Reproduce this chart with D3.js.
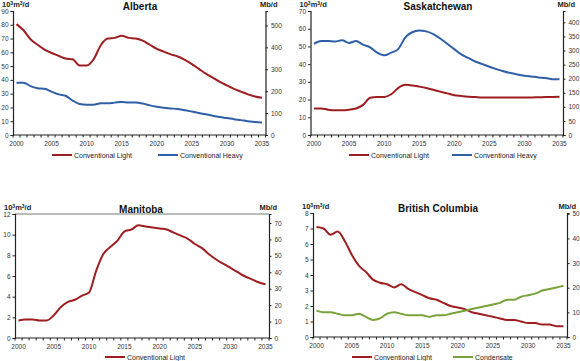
<!DOCTYPE html>
<html><head><meta charset="utf-8">
<script src="https://cdn.jsdelivr.net/npm/d3@7"></script>
<style>body{margin:0;background:#fff}svg{display:block;font-family:"Liberation Sans",Arial,sans-serif}</style>
</head><body><svg id="c" width="580" height="361"></svg>
<script>
const years = d3.range(2000, 2036);
const xTickLabels = [2000,2005,2010,2015,2020,2025,2030,2035];
const M3_TO_BBL = 6.2898;

const albertaLight = [80.5,76,69.5,65.5,62,59.5,57.5,55.5,55,50.5,50.5,55,65,70,70.5,72,70.5,70,68.5,65.5,62.5,60.5,58.5,57,54.5,51.5,48,44.5,41.5,38.5,36,33.5,31.5,29.5,28,27];
const albertaHeavy = [38,38,35.5,34,33.5,31.5,29.5,28.5,25,22.5,22,22,23,23,23.5,24,23.5,23.5,22.8,21.5,20.5,19.8,19.3,18.8,18,17,16,15,14,13,12.3,11.5,10.8,10,9.5,9];
const saskLight = [15,15,14.3,14,14,14.3,15,17,21,21.5,21.5,23,26.5,28.3,28,27.3,26.5,25.5,24.5,23.5,22.5,22,21.6,21.4,21.2,21.1,21.1,21.1,21.1,21.1,21.2,21.2,21.3,21.4,21.5,21.6];
const saskHeavy = [51.5,53,53,52.8,53.5,52,53,51,49.5,46.5,45,46.5,48.5,55,58,59,58.5,57,54.5,51.5,48.5,45.5,43.5,41.5,40,38.5,37.2,36,35,34.2,33.5,33,32.5,32.2,31.5,31.5];
const manitobaLight = [1.7,1.8,1.8,1.7,1.7,2.2,3.0,3.5,3.7,4.1,4.4,6.5,8.1,8.8,9.4,10.3,10.5,10.9,10.8,10.7,10.6,10.5,10.2,9.9,9.6,9.1,8.7,8.1,7.6,7.2,6.8,6.4,6.0,5.7,5.4,5.2];
const bcLight = [7.1,7.0,6.6,6.8,6.2,5.3,4.6,4.2,3.7,3.5,3.4,3.2,3.4,3.1,2.9,2.7,2.5,2.4,2.2,2.0,1.9,1.8,1.6,1.5,1.4,1.3,1.2,1.1,1.1,1.0,0.9,0.9,0.8,0.8,0.7,0.7];
const bcCondensate = [1.7,1.6,1.6,1.5,1.4,1.4,1.5,1.3,1.1,1.2,1.5,1.6,1.5,1.4,1.4,1.4,1.3,1.4,1.4,1.5,1.6,1.7,1.8,1.9,2.0,2.1,2.2,2.4,2.4,2.6,2.7,2.8,3.0,3.1,3.2,3.3];

const leftTicksAB = d3.range(0, 91, 10), rightTicksAB = d3.range(0, 501, 100);
const leftTicksSK = d3.range(0, 71, 10), rightTicksSK = d3.range(0, 401, 50);
const leftTicksMB = d3.range(0, 13, 2), rightTicksMB = d3.range(0, 71, 10);
const leftTicksBC = d3.range(0, 9, 1), rightTicksBC = d3.range(0, 51, 10);

const RED = "#9e1d20", BLUE = "#2f5fa7", GREEN = "#77a33a";
const nameLight = "Conventional Light", nameHeavy = "Conventional Heavy", nameCond = "Condensate";

const panels = [
  {title:"Alberta", x0:13, x1:265.5, y0:11, y1:135, max:90, lt:leftTicksAB, rt:rightTicksAB, topLine:false,
   series:[{name:nameLight,v:albertaLight,c:RED,lx:52},{name:nameHeavy,v:albertaHeavy,c:BLUE,lx:158}], ly:155, tx:140, ty:11, ux:277.5},
  {title:"Saskatchewan", x0:310.5, x1:563, y0:11, y1:135, max:70, lt:leftTicksSK, rt:rightTicksSK, topLine:false,
   series:[{name:nameLight,v:saskLight,c:RED,lx:349},{name:nameHeavy,v:saskHeavy,c:BLUE,lx:452}], ly:155, tx:438, ty:11, ux:575},
  {title:"Manitoba", x0:15, x1:269, y0:214, y1:338, max:12, lt:leftTicksMB, rt:rightTicksMB, topLine:true,
   series:[{name:nameLight,v:manitobaLight,c:RED,lx:105}], ly:357, tx:141, ty:214, ux:277},
  {title:"British Columbia", x0:313, x1:567, y0:213, y1:337, max:8, lt:leftTicksBC, rt:rightTicksBC, topLine:false,
   series:[{name:nameLight,v:bcLight,c:RED,lx:352},{name:nameCond,v:bcCondensate,c:GREEN,lx:453}], ly:357, tx:438, ty:213, ux:576}
];

const svg = d3.select("#c");
const tickCol = "#333", axisCol = "#222";

panels.forEach(p => {
  const g = svg.append("g");
  const x = d3.scaleBand().domain(years).range([p.x0, p.x1]).padding(0);
  const cx = d => x(d) + x.bandwidth()/2;
  const y = d3.scaleLinear().domain([0, p.max]).range([p.y1, p.y0]);
  const yr = d3.scaleLinear().domain([0, p.max*M3_TO_BBL]).range([p.y1, p.y0]);

  if (p.topLine) g.append("line").attr("x1",p.x0).attr("x2",p.x1).attr("y1",p.y0).attr("y2",p.y0).attr("stroke","#555").attr("stroke-width",0.8);

  const la = g.append("g").attr("transform",`translate(${p.x0},0)`)
    .call(d3.axisLeft(y).tickValues(p.lt).tickSize(2.5).tickPadding(2).tickFormat(d3.format("d")));
  const ra = g.append("g").attr("transform",`translate(${p.x1},0)`)
    .call(d3.axisRight(yr).tickValues(p.rt).tickSize(2.5).tickPadding(3).tickFormat(d3.format("d")));
  [la, ra].forEach(a => {
    a.select(".domain").attr("stroke",axisCol).attr("stroke-width",1.2);
    a.selectAll(".tick line").attr("stroke",axisCol).attr("stroke-width",1);
    a.selectAll("text").attr("font-size",6.5).attr("fill",tickCol);
  });
  const bb = g.append("g");
  bb.append("line").attr("x1",p.x0).attr("x2",p.x1).attr("y1",p.y1).attr("y2",p.y1).attr("stroke",axisCol).attr("stroke-width",1.2);
  const bounds = years.map(d => x(d)).concat([p.x1]);
  bb.selectAll("line.tk").data(bounds).join("line").attr("class","tk")
    .attr("x1",d=>d).attr("x2",d=>d).attr("y1",p.y1).attr("y2",p.y1+2.5).attr("stroke",axisCol).attr("stroke-width",1);
  bb.selectAll("text").data(xTickLabels).join("text")
    .attr("x",d=>cx(d)).attr("y",p.y1+10.5).attr("text-anchor","middle")
    .attr("font-size",6.5).attr("fill",tickCol).text(d=>d);

  const ul = g.append("text").attr("x",p.x0-11).attr("y",p.y0-4).attr("font-size",7.5).attr("font-weight","bold").attr("fill","#222");
  ul.append("tspan").text("10");
  ul.append("tspan").text("3").attr("font-size",5).attr("dy",-2.5);
  ul.append("tspan").text("m").attr("dy",2.5);
  ul.append("tspan").text("3").attr("font-size",5).attr("dy",-2.5);
  ul.append("tspan").text("/d").attr("dy",2.5);
  g.append("text").attr("x",p.ux).attr("y",p.y0-4).attr("text-anchor","end").attr("font-size",7.5).attr("font-weight","bold").attr("fill","#222").text("Mb/d");

  g.append("text").attr("x",p.tx).attr("y",p.ty-1.5).attr("text-anchor","middle").attr("font-size",10).attr("font-weight","bold").attr("fill","#111").text(p.title);

  const line = d3.line().x((d,i)=>cx(years[i])).y(d=>y(d)).curve(d3.curveMonotoneX);
  p.series.forEach(s => {
    g.append("path").datum(s.v).attr("d",line).attr("fill","none").attr("stroke",s.c).attr("stroke-width",2).attr("stroke-linejoin","round");
    g.append("line").attr("x1",s.lx).attr("x2",s.lx+20).attr("y1",p.ly).attr("y2",p.ly).attr("stroke",s.c).attr("stroke-width",2);
    g.append("text").attr("x",s.lx+22).attr("y",p.ly+2.5).attr("font-size",7).attr("fill","#222").text(s.name);
  });
});
</script>
</body></html>
